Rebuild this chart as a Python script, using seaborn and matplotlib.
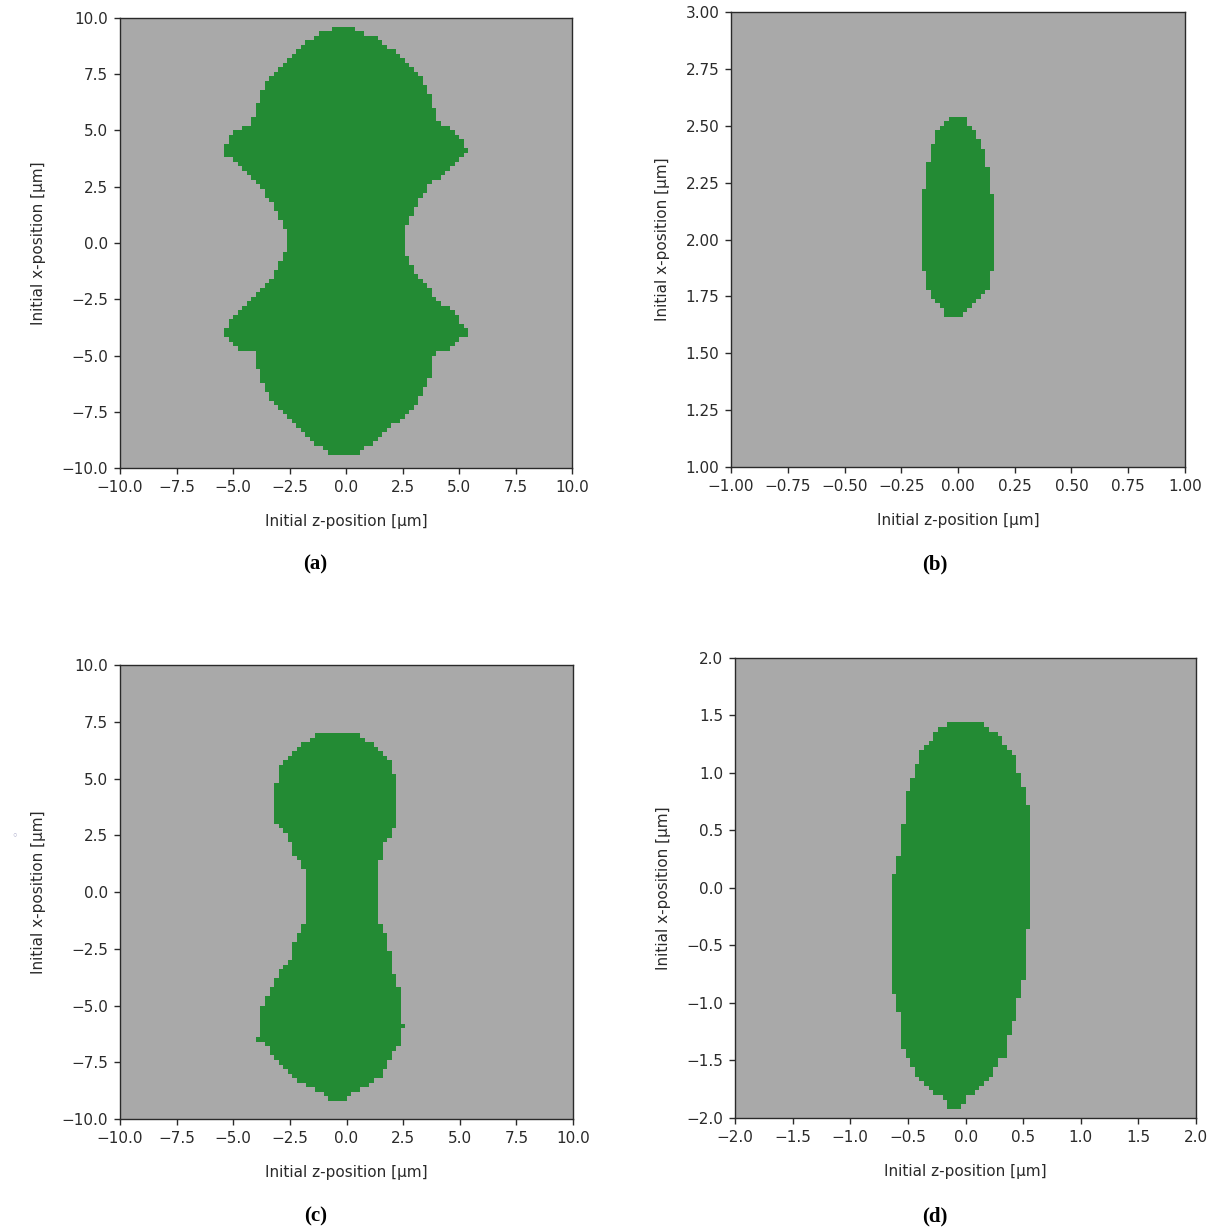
import numpy as np
import matplotlib
matplotlib.use("Agg")
import matplotlib.pyplot as plt
from matplotlib.colors import ListedColormap
import seaborn as sns

GREY = "#a9a9a9"
GREEN = "#238b34"
TEXT = "#2a2a2a"

# ---------------- data: boundary of the green region per panel ----------------
# (initial x-position, left z-boundary, right z-boundary)
a_x = [9.6, 9.3, 9.1, 8.9, 8.7, 8.5, 8.2, 7.9, 7.5, 7.3, 6.9, 6.5, 5.9, 5.3, 5.0, 4.8,
       4.4, 4.1, 3.9, 3.7, 3.5, 3.3, 3.1, 2.9, 2.8, 2.6, 2.2, 1.9, 1.5, 1.0, 0.4, 0.0,
       -0.2, -0.8, -1.1, -1.5, -1.8, -2.1, -2.4, -2.6, -2.9, -3.1, -3.4, -3.7, -4.0,
       -4.2, -4.4, -4.6, -4.8, -4.9, -5.4, -5.6, -6.1, -6.3, -6.7, -7.0, -7.3, -7.5,
       -7.7, -7.9, -8.1, -8.3, -8.5, -8.9, -9.2, -9.4]
a_left = [-0.3, -1.1, -1.45, -1.8, -2.05, -2.25, -2.5, -2.85, -3.25, -3.45, -3.65, -3.8,
          -4.0, -4.25, -4.85, -5.05, -5.3, -5.5, -5.3, -5.05, -4.85, -4.6, -4.4, -4.25,
          -4.0, -3.8, -3.6, -3.3, -3.1, -2.85, -2.65, -2.65, -2.65, -2.85, -3.05, -3.25,
          -3.6, -3.8, -4.0, -4.25, -4.6, -4.85, -5.05, -5.3, -5.5, -5.3, -5.05, -4.85,
          -4.6, -4.0, -4.0, -3.8, -3.8, -3.6, -3.45, -3.25, -3.05, -2.85, -2.65, -2.4,
          -2.15, -2.0, -1.8, -1.3, -0.9, -0.9]
a_right = [0.2, 0.9, 1.35, 1.6, 1.8, 2.15, 2.4, 2.75, 3.2, 3.4, 3.6, 3.75, 3.95, 4.15,
           4.75, 4.95, 5.2, 5.4, 5.2, 4.95, 4.75, 4.6, 4.4, 4.15, 4.0, 3.75, 3.55, 3.25,
           3.0, 2.75, 2.55, 2.5, 2.55, 2.75, 2.95, 3.2, 3.45, 3.75, 3.95, 4.2, 4.5, 4.75,
           5.0, 5.2, 5.4, 5.2, 4.95, 4.75, 4.6, 3.9, 3.9, 3.75, 3.7, 3.55, 3.4, 3.2,
           2.95, 2.75, 2.55, 2.35, 2.1, 1.8, 1.55, 1.2, 0.5, 0.5]

b_x = [2.545, 2.52, 2.50, 2.48, 2.44, 2.38, 2.31, 2.22, 2.20, 1.87, 1.86, 1.79, 1.77,
       1.74, 1.72, 1.70, 1.68, 1.665]
b_left = [-0.025, -0.045, -0.065, -0.085, -0.105, -0.12, -0.14, -0.14, -0.165, -0.165,
          -0.14, -0.14, -0.12, -0.105, -0.085, -0.065, -0.05, -0.05]
b_right = [0.02, 0.04, 0.055, 0.075, 0.095, 0.115, 0.135, 0.135, 0.16, 0.16, 0.135,
           0.135, 0.115, 0.095, 0.075, 0.06, 0.03, 0.03]

c_x = [7.05, 6.9, 6.6, 6.45, 6.3, 6.1, 5.9, 5.6, 5.4, 5.0, 4.6, 3.0, 2.8, 2.65, 2.3, 1.9,
       1.5, 1.2, 0.8, -0.3, -1.4, -1.5, -2.0, -2.4, -2.7, -3.0, -3.3, -3.7, -4.0, -4.4,
       -4.8, -5.2, -5.8, -5.85, -5.95, -6.0, -6.3, -6.5, -6.6, -6.9, -7.3, -7.6, -8.0,
       -8.2, -8.4, -8.6, -8.8, -9.05, -9.15]
c_left = [-0.8, -1.4, -1.75, -2.0, -2.2, -2.4, -2.55, -2.8, -3.05, -3.05, -3.2, -3.2,
          -2.8, -2.8, -2.55, -2.4, -2.2, -2.0, -1.8, -1.7, -1.75, -2.0, -2.2, -2.4,
          -2.4, -2.55, -2.8, -3.0, -3.2, -3.4, -3.6, -3.75, -3.75, -3.75, -3.75, -3.75,
          -3.75, -4.0, -3.6, -3.4, -3.2, -3.0, -2.55, -2.35, -2.0, -1.75, -1.2, -0.8, -0.8]
c_right = [0.25, 0.6, 0.95, 1.2, 1.4, 1.6, 1.8, 2.0, 2.0, 2.2, 2.2, 2.2, 2.2, 2.0, 1.8,
           1.6, 1.6, 1.4, 1.4, 1.4, 1.4, 1.6, 1.8, 1.8, 2.0, 2.0, 2.0, 2.2, 2.2, 2.4,
           2.4, 2.4, 2.4, 2.65, 2.65, 2.4, 2.4, 2.4, 2.4, 2.2, 2.0, 1.8, 1.6, 1.4, 1.2,
           0.85, 0.4, 0.0, 0.0]

d_x = [1.45, 1.42, 1.39, 1.36, 1.33, 1.27, 1.22, 1.18, 1.12, 1.05, 0.99, 0.95, 0.86,
       0.80, 0.60, 0.55, 0.30, 0.28, 0.15, 0.12, -0.35, -0.40, -0.80, -0.85, -0.95,
       -1.02, -1.12, -1.18, -1.35, -1.45, -1.48, -1.52, -1.60, -1.66, -1.71, -1.77,
       -1.83, -1.90]
d_left = [-0.07, -0.16, -0.21, -0.24, -0.28, -0.32, -0.36, -0.40, -0.40, -0.44, -0.44,
          -0.48, -0.48, -0.52, -0.52, -0.56, -0.56, -0.60, -0.60, -0.64, -0.64, -0.64,
          -0.64, -0.64, -0.60, -0.60, -0.56, -0.56, -0.56, -0.52, -0.48, -0.48, -0.44,
          -0.40, -0.36, -0.28, -0.16, -0.16]
d_right = [0.12, 0.15, 0.19, 0.24, 0.32, 0.32, 0.36, 0.40, 0.44, 0.44, 0.47, 0.47, 0.52,
           0.52, 0.56, 0.56, 0.56, 0.56, 0.56, 0.56, 0.56, 0.52, 0.52, 0.47, 0.47, 0.44,
           0.44, 0.40, 0.36, 0.36, 0.32, 0.28, 0.24, 0.19, 0.15, 0.08, 0.0, -0.04]

# axis ranges and tick values
a_range = (-10.0, 10.0, -10.0, 10.0)
b_range = (-1.0, 1.0, 1.0, 3.0)
c_range = (-10.0, 10.0, -10.0, 10.0)
d_range = (-2.0, 2.0, -2.0, 2.0)
ticks_10 = [-10.0, -7.5, -5.0, -2.5, 0.0, 2.5, 5.0, 7.5, 10.0]
b_zticks = [-1.0, -0.75, -0.5, -0.25, 0.0, 0.25, 0.5, 0.75, 1.0]
b_xticks = [1.0, 1.25, 1.5, 1.75, 2.0, 2.25, 2.5, 2.75, 3.0]
d_ticks = [-2.0, -1.5, -1.0, -0.5, 0.0, 0.5, 1.0, 1.5, 2.0]
n_cells = 100

panels = [
    ("(a)", a_x, a_left, a_right, a_range, ticks_10, ticks_10, "{:.1f}",
     [0.0984, 0.6195, 0.3705, 0.3659], (0.258, 0.533)),
    ("(b)", b_x, b_left, b_right, b_range, b_zticks, b_xticks, "{:.2f}",
     [0.5992, 0.6203, 0.3721, 0.3699], (0.766, 0.533)),
    ("(c)", c_x, c_left, c_right, c_range, ticks_10, ticks_10, "{:.1f}",
     [0.0984, 0.0902, 0.3713, 0.3691], (0.259, 0.003)),
    ("(d)", d_x, d_left, d_right, d_range, d_ticks, d_ticks, "{:.1f}",
     [0.6025, 0.0911, 0.3779, 0.3740], (0.766, 0.003)),
]

plt.rcParams["font.family"] = ["DejaVu Sans"]
fig = plt.figure(figsize=(12.2, 12.3), dpi=100)
green_cmap = ListedColormap([GREEN])


def fmt(v, f):
    return f.format(v).replace("-", "\u2212")


for label, px, pl, pr, rng, zt, xt, f, pos, lab_pos in panels:
    z0, z1, x0, x1 = rng
    ax = fig.add_axes(pos)
    ax.set_facecolor(GREY)
    dz = (z1 - z0) / n_cells
    dx = (x1 - x0) / n_cells
    zc = z0 + dz * (np.arange(n_cells) + 0.5)
    xc = x0 + dx * (np.arange(n_cells) + 0.5)
    Z, X = np.meshgrid(zc, xc)
    xs = np.array(px)[::-1]
    left = np.interp(X, xs, np.array(pl)[::-1])
    right = np.interp(X, xs, np.array(pr)[::-1])
    inside = (Z >= left) & (Z <= right) & (X <= xs.max()) & (X >= xs.min())
    sns.histplot(x=Z.ravel(), y=X.ravel(), weights=inside.ravel().astype(float),
                 bins=n_cells, binrange=((z0, z1), (x0, x1)), cmap=green_cmap,
                 ax=ax, cbar=False)
    ax.set_xlim(z0, z1)
    ax.set_ylim(x0, x1)
    ax.set_xticks(zt)
    ax.set_xticklabels([fmt(v, f) for v in zt])
    ax.set_yticks(xt)
    ax.set_yticklabels([fmt(v, f) for v in xt])
    ax.tick_params(labelsize=11, length=4.5, width=1.0, pad=4, colors=TEXT)
    for s in ax.spines.values():
        s.set_color(TEXT)
        s.set_linewidth(1.0)
    ax.set_xlabel("Initial z-position [µm]", fontsize=11, labelpad=14, color=TEXT)
    ax.set_ylabel("Initial x-position [µm]", fontsize=11, labelpad=11, color=TEXT)
    ax.grid(False)
    fig.text(lab_pos[0], lab_pos[1], label, fontsize=15, fontweight="bold",
             family=["Liberation Serif", "DejaVu Serif"], ha="center", va="bottom",
             color="black")

fig.text(0.012, 0.32, "\u25e6", fontsize=8, color="#a8a8c8", ha="center", va="center")
fig.savefig("out.png", dpi=100)
